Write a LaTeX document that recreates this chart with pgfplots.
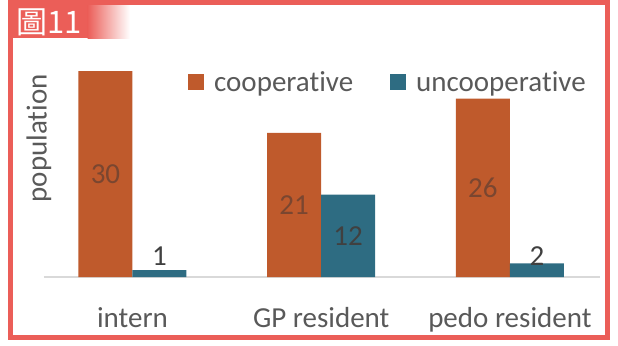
\documentclass[border=0pt]{standalone}
\usepackage{pgfplots}
\pgfplotsset{compat=1.18}
\usepackage{pgfplotstable}
\usepackage{fontspec}
\setmainfont{Carlito}[Ligatures=NoCommon]
\newfontfamily\cjk{Noto Sans CJK TC}

\definecolor{frame}{HTML}{EB5E58}
\definecolor{coop}{HTML}{BF5A2C}
\definecolor{unco}{HTML}{2E6C82}
\definecolor{txt}{HTML}{595959}
\definecolor{lbl}{HTML}{404040}
\definecolor{lblc}{HTML}{7A4630}
\newcommand\chartfont{\fontsize{29bp}{34bp}\selectfont}

% cooperative patients per group
\pgfplotstableread{
x coop
0 30
1 21
2 26
}\coopdata
% uncooperative patients; half = 0.5 puts the label mid-bar, lift raises it (bp)
\pgfplotstableread{
x unco half lift
0 1  0   14
1 12 0.5 0
2 2  0   7
}\uncodata

\begin{document}
\begin{tikzpicture}[x=1bp,y=1bp]
\path[use as bounding box] (0,0) rectangle (618,345);

% title tab
\fill[frame] (8,307) rectangle (88,345);
\shade[left color=frame, right color=white] (87.5,307) rectangle (130,340);
\node[anchor=base west, text=white, inner sep=0] at (16,312)
  {\cjk\fontsize{31bp}{31bp}\selectfont 圖11};

\begin{axis}[
  at={(43.8bp,68bp)}, anchor=south west,
  x=188.7bp, y=6.86bp,
  xmin=-0.47, xmax=2.48, ymin=0, ymax=33,
  ybar=0pt, bar width=54bp,
  axis x line*=bottom,
  x axis line style={draw=black!15, line width=1.5bp, -},
  y axis line style={draw=none},
  ytick=\empty,
  xtick={0,1,2},
  xticklabels={intern, GP resident, pedo resident},
  major tick length=0pt,
  xticklabel style={font=\chartfont, text=txt, anchor=base, yshift=-50bp},
  ylabel={population},
  ylabel style={at={(axis description cs:-0.0086,0.613)}, anchor=center,
    font=\chartfont, text=txt},
  /pgf/number format/assume math mode=true,
  legend style={at={(axis description cs:0.259,0.86)}, anchor=west,
    draw=none, fill=none, font=\chartfont, text=txt,
    legend columns=2, inner sep=0pt,
    /tikz/every odd column/.append style={column sep=8bp},
    /tikz/every even column/.append style={column sep=35bp}},
  legend image code/.code={\fill[#1] (0bp,-8bp) rectangle (16bp,8bp);},
]
\addplot[fill=coop, draw=none,
  nodes near coords,
  visualization depends on={\thisrow{coop} \as \val},
  nodes near coords style={anchor=center, yshift={-\val*3.43bp},
    text=lblc, font=\chartfont}]
  table[x=x, y=coop] {\coopdata};
\addplot[fill=unco, draw=none,
  nodes near coords,
  visualization depends on={\thisrow{unco} \as \val},
  visualization depends on={\thisrow{half} \as \half},
  visualization depends on={\thisrow{lift} \as \lift},
  nodes near coords style={anchor=center,
    yshift={\lift*1bp-\val*\half*6.86bp},
    text=lbl, font=\chartfont}]
  table[x=x, y=unco] {\uncodata};
\legend{cooperative, uncooperative}
\end{axis}

% outer frame
\draw[frame, line width=5bp] (10.5,7.5) rectangle (607.5,342.5);
\end{tikzpicture}
\end{document}
